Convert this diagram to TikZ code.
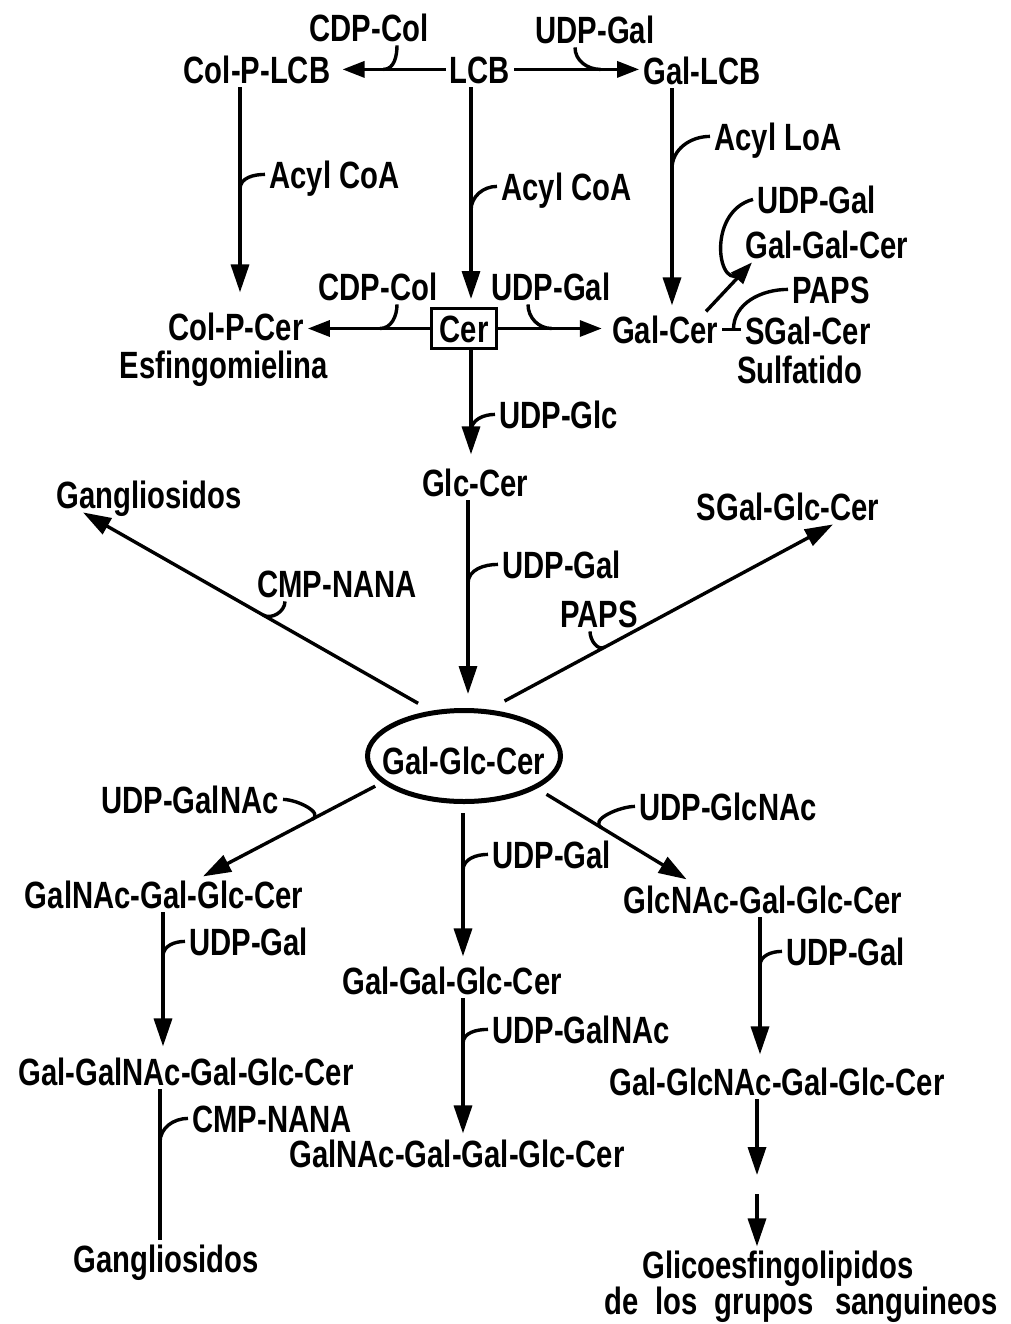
\documentclass[tikz,border=0pt]{standalone}
\usepackage{fontspec}
\newfontfamily\dfont{Liberation Sans}[FakeStretch=0.77]
\usetikzlibrary{arrows.meta,shapes.geometric}
\begin{document}
\begin{tikzpicture}[x=0.5pt,y=-0.5pt,
  every node/.style={font={\dfont\bfseries\fontsize{19}{22}\selectfont}, text height=13.6pt, text depth=0pt, inner sep=2pt},
  cmp/.style={anchor=base},
  lab/.style={anchor=base west},
  labr/.style={anchor=base east},
  cerbox/.style={draw, line width=1.5pt, minimum width=32.5pt, minimum height=20pt, inner sep=0pt, anchor=center},
  ellnode/.style={ellipse, draw, line width=2.5pt, minimum width=96.5pt, minimum height=45.5pt, inner sep=0pt, anchor=center},
  ln/.style={line width=1.7pt},
  arr/.style={ln, -{Triangle[length=14pt,width=9pt]}},
  arrs/.style={ln, -{Triangle[length=11pt,width=8pt]}},
  hk/.style={ln}]
\useasboundingbox (0,0) rectangle (1011,1324);
% ---- compounds and labels
\node[cmp] (cdp1) at (369,41) {CDP-Col};
\node[cmp] (udp1) at (595,43) {UDP-Gal};
\node[cmp] (colplcb) at (257,83) {Col-P-LCB};
\node[cmp] (lcb) at (480,83) {LCB};
\node[cmp] (gallcb) at (702,84) {Gal-LCB};
\node[lab] (acyl1) at (265,188) {Acyl CoA};
\node[lab] (acyl2) at (497,200) {Acyl CoA};
\node[lab] (acyl3) at (710,150) {Acyl LoA};
\node[lab] (udp2) at (753,213) {UDP-Gal};
\node[cmp] (galgalcer) at (827,258) {Gal-Gal-Cer};
\node[cmp] (cdp2) at (378,300) {CDP-Col};
\node[cmp] (udp3) at (551,300) {UDP-Gal};
\node[lab] (paps1) at (788,303) {PAPS};
\node[cmp] (colpcer) at (236,340) {Col-P-Cer};
\node[cmp] (esf) at (224,378) {Esfingomielina};
\node[cerbox] (cer) at (464,328.5) {Cer};
\node[cmp] (galcer) at (665,343) {Gal-Cer};
\node[cmp] (sgalcer) at (808,344) {SGal-Cer};
\node[cmp] (sulf) at (800,383) {Sulfatido};
\node[lab] (udpglc) at (495,428) {UDP-Glc};
\node[cmp] (glccer) at (475,496) {Glc-Cer};
\node[cmp] (gang1) at (149,508) {Gangliosidos};
\node[cmp] (sgalglc) at (788,520) {SGal-Glc-Cer};
\node[lab] (udp4) at (498,578) {UDP-Gal};
\node[lab] (cmp1) at (253,597) {CMP-NANA};
\node[cmp] (paps2) at (599,627) {PAPS};
\node[ellnode] (ell) at (464,756) {};
\node[cmp] (gglc) at (464,774) {Gal-Glc-Cer};
\node[labr] (udpgn1) at (283,813) {UDP-GalNAc};
\node[lab] (udpgc) at (635,820) {UDP-GlcNAc};
\node[lab] (udp5) at (488,868) {UDP-Gal};
\node[cmp] (galnacgal) at (164,908) {GalNAc-Gal-Glc-Cer};
\node[cmp] (glcnac) at (763,913) {GlcNAc-Gal-Glc-Cer};
\node[lab] (udp6) at (185,955) {UDP-Gal};
\node[lab] (udp7) at (782,965) {UDP-Gal};
\node[cmp] (galgalglc) at (452,994) {Gal-Gal-Glc-Cer};
\node[lab] (udpgn2) at (488,1043) {UDP-GalNAc};
\node[cmp] (galgalnac) at (186,1085) {Gal-GalNAc-Gal-Glc-Cer};
\node[cmp] (galglcnac) at (777,1095) {Gal-GlcNAc-Gal-Glc-Cer};
\node[lab] (cmp2) at (188,1132) {CMP-NANA};
\node[cmp] (galnacgalgal) at (457,1167) {GalNAc-Gal-Gal-Glc-Cer};
\node[cmp] (gang2) at (166,1272) {Gangliosidos};
\node[cmp] (glico) at (778,1278) {Glicoesfingolipidos};
\node[cmp] (grupos) at (801,1314) {de\hspace{0.45em}los\hspace{0.45em}grupos\hspace{0.55em}sanguineos};
% ---- main connectors
\draw[arrs, shorten >=4pt] (lcb.west) -- coordinate[pos=.56] (k1) (colplcb.east |- lcb.west);
\draw[arrs] (lcb.east) -- coordinate[pos=.69] (k2) (gallcb.west |- lcb.east);
\draw[arr, shorten >=8pt] (colplcb.south -| 240,0) -- coordinate[pos=.46] (k3) (colpcer.north -| 240,0);
\draw[arr, shorten >=4pt] (lcb.south -| 471,0) -- coordinate[pos=.56] (k4) (cer.north -| 471,0);
\draw[arr, shorten >=3pt] (gallcb.south -| 672,0) -- coordinate[pos=.36] (k5) (galcer.north -| 672,0);
\draw[arrs] (galcer.north -| 706,0) -- coordinate[pos=.8] (k6) (galgalcer.south -| 752,0);
\draw[arrs] (cer.west) -- coordinate[pos=.41] (k7) (colpcer.east |- cer.west);
\draw[arrs, shorten >=3pt] (cer.east) -- coordinate[pos=.49] (k8) (galcer.west |- cer.east);
\draw[ln] (galcer.east) -- coordinate[pos=.6] (k9) (sgalcer.west |- galcer.east);
\draw[arr, shorten >=5pt] (cer.south -| 471,0) -- coordinate[pos=.71] (k10) (glccer.north -| 471,0);
\draw[arr, shorten >=7pt] (glccer.south -| 468,0) -- coordinate[pos=.40] (k11) (ell.north -| 468,0);
\draw[arr, shorten <=7.5pt] (ell.126) -- coordinate[pos=.483] (k12) (gang1.south -| 83,0);
\draw[arr, shorten <=9pt] (ell.62) -- coordinate[pos=.337] (k13) (sgalglc.south -| 833,0);
\draw[arr, shorten <=3.7pt] (ell.198) -- coordinate[pos=.39] (k14) (galnacgal.north -| 203,0);
\draw[arr, shorten <=5.6pt, shorten >=2pt] (ell.336) -- coordinate[pos=.424] (k15) (glcnac.north -| 690,0);
\draw[arr, shorten <=4.5pt, shorten >=3pt] (ell.south -| 463,0) -- coordinate[pos=.42] (k16) (galgalglc.north -| 463,0);
\draw[arr, shorten >=3.5pt] (galnacgal.south -| 163,0) -- coordinate[pos=.31] (k17) (galgalnac.north -| 163,0);
\draw[arr, shorten >=4.5pt] (glcnac.south -| 760,0) -- coordinate[pos=.33] (k18) (galglcnac.north -| 760,0);
\draw[arr, shorten >=1pt] (galgalglc.south -| 463,0) -- coordinate[pos=.33] (k19) (galnacgalgal.north -| 463,0);
\draw[ln] (galgalnac.south -| 160,0) -- coordinate[pos=.35] (k20) (gang2.north -| 160,0);
\coordinate (b1) at (757,1175);
\coordinate (b2) at (757,1194);
\draw[arr] (galglcnac.south -| 757,0) -- (b1);
\draw[arr] (b2) -- (glico.north -| 757,0);
% ---- co-substrate hooks
\draw[hk] (cdp1.south -| 397,0) to[out=-90,in=0] (k1);
\draw[hk] (udp1.south -| 575,0) to[out=-90,in=180] (k2);
\draw[hk] (acyl1.west) to[out=180,in=90] (k3);
\draw[hk] (acyl2.west) to[out=180,in=90] (k4);
\draw[hk] (acyl3.west) to[out=180,in=90] (k5);
\draw[hk] (udp2.west) .. controls (705,212) and (718,296) .. (k6);
\draw[hk] (cdp2.south -| 397,0) to[out=-90,in=0] (k7);
\draw[hk] (udp3.south -| 528,0) to[out=-90,in=180] (k8);
\draw[hk] (paps1.west) to[out=180,in=90] (k9);
\draw[hk] (udpglc.west) to[out=180,in=90] (k10);
\draw[hk] (udp4.west) to[out=180,in=90] (k11);
\draw[hk] (cmp1.south -| 285,0) to[out=-90,in=-30] (k12);
\draw[hk] (paps2.south -| 590,0) to[out=-90,in=208] (k13);
\draw[hk] (udpgn1.east) to[out=0,in=28] (k14);
\draw[hk] (udpgc.west) to[out=180,in=150] (k15);
\draw[hk] (udp5.west) to[out=180,in=90] (k16);
\draw[hk] (udp6.west) to[out=180,in=90] (k17);
\draw[hk] (udp7.west) to[out=180,in=90] (k18);
\draw[hk] (udpgn2.west) to[out=180,in=90] (k19);
\draw[hk] (cmp2.west) to[out=180,in=90] (k20);
\end{tikzpicture}
\end{document}
